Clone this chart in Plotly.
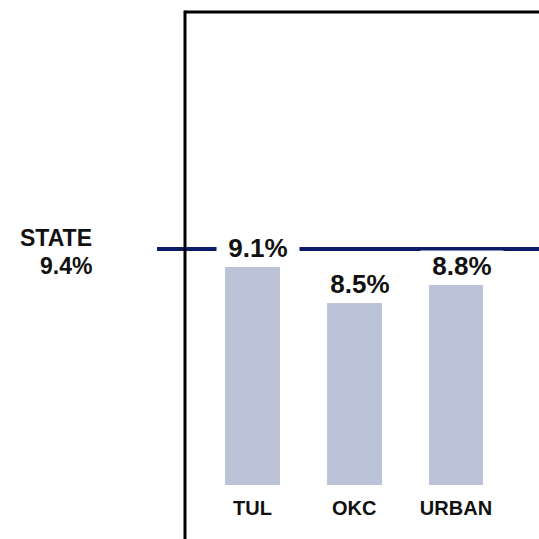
import plotly.graph_objects as go

categories = ["TUL", "OKC", "URBAN"]
values = [9.1, 8.5, 8.8]
value_labels = ["9.1%", "8.5%", "8.8%"]
state_value = 9.4
state_title = "STATE"
state_text = "9.4%"

BAR_COLOR = "#bcc3d8"
LINE_COLOR = "#0d1b6b"
FONT = "Liberation Sans, Arial, sans-serif"

fig = go.Figure()
fig.add_trace(go.Bar(
    x=categories, y=values, width=0.54,
    marker=dict(color=BAR_COLOR, line=dict(width=0)),
    hoverinfo="skip",
))

# state reference line
fig.add_shape(type="line", xref="paper", yref="y",
              x0=-0.079, x1=1.01, y0=state_value, y1=state_value,
              line=dict(color=LINE_COLOR, width=4), layer="below")

# frame
fig.add_shape(type="line", xref="paper", yref="paper", x0=0, x1=0, y0=-0.2, y1=1.003,
              line=dict(color="black", width=3))
fig.add_shape(type="line", xref="paper", yref="paper", x0=0, x1=1.01, y0=1, y1=1,
              line=dict(color="black", width=3))

for c, v, t in zip(categories, values, value_labels):
    fig.add_annotation(x=c, y=v, xref="x", yref="y", text="<b>%s</b>" % t,
                       showarrow=False, yanchor="bottom", xanchor="center",
                       xshift=6, yshift=3, bgcolor="white", borderpad=0, width=82,
                       font=dict(family=FONT, size=26, color="#111111"))

fig.add_annotation(x=-0.26, y=state_value, xref="paper", yref="y",
                   text="<b>%s</b>" % state_title, showarrow=False,
                   xanchor="right", yanchor="middle", yshift=11, borderpad=0,
                   font=dict(family=FONT, size=23, color="#111111"))
fig.add_annotation(x=-0.26, y=state_value, xref="paper", yref="y",
                   text="<b>%s</b>" % state_text, showarrow=False,
                   xanchor="right", yanchor="middle", yshift=-17, borderpad=0,
                   font=dict(family=FONT, size=23, color="#111111"))

fig.update_layout(
    width=539, height=539,
    margin=dict(l=185, r=0, t=12, b=54),
    paper_bgcolor="white", plot_bgcolor="white",
    showlegend=False, bargap=0,
    xaxis=dict(type="category", range=[-0.663, 2.816], showgrid=False, zeroline=False,
               showline=False, ticks="outside", ticklen=5, tickcolor="rgba(0,0,0,0)",
               tickfont=dict(family=FONT, size=20, color="#111111"),
               tickvals=categories, ticktext=["<b>%s</b>" % c for c in categories]),
    yaxis=dict(range=[5.467, 13.35], showgrid=False, zeroline=False, showline=False,
               showticklabels=False, ticks=""),
)

fig.write_html("out.html", config={"displayModeBar": False},
               post_script="document.body.style.margin='0';document.body.style.overflow='hidden';")
